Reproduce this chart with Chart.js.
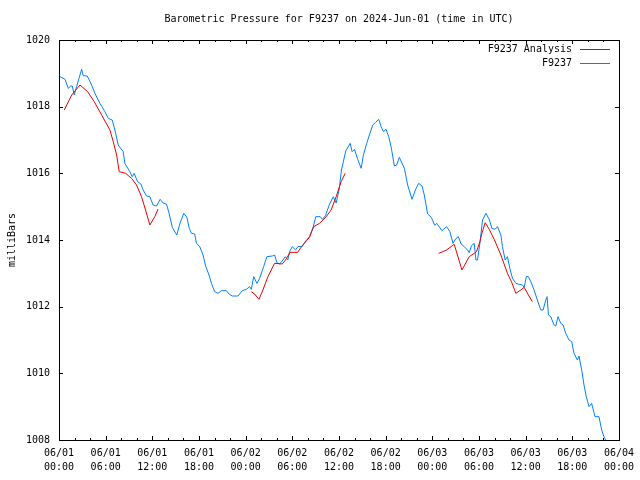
<!DOCTYPE html>
<html><head><meta charset="utf-8">
<script src="https://cdn.jsdelivr.net/npm/chart.js@4/dist/chart.umd.min.js"></script>
<style>html,body{margin:0;padding:0;background:#fff}#wrap{width:640px;height:480px}</style>
</head><body><div id="wrap"><canvas id="c" width="640" height="480"></canvas></div>
<script>
const titleText = "Barometric Pressure for F9237 on 2024-Jun-01 (time in UTC)";
const yAxisTitle = "milliBars";
const seriesNames = ["F9237 Analysis", "F9237"];
const seriesColors = ["rgb(235,0,0)", "rgb(0,128,255)"];
const xTickHours = [0, 6, 12, 18, 24, 30, 36, 42, 48, 54, 60, 66, 72];
const xTickDates = ["06/01","06/01","06/01","06/01","06/02","06/02","06/02","06/02","06/03","06/03","06/03","06/03","06/04"];
const xTickTimes = ["00:00","06:00","12:00","18:00","00:00","06:00","12:00","18:00","00:00","06:00","12:00","18:00","00:00"];
const yTicks = [1008, 1010, 1012, 1014, 1016, 1018, 1020];

// hours since 06/01 00:00 UTC
const stationHours = [0.13,0.77,1.19,1.50,1.71,1.96,2.27,2.57,2.91,3.12,3.63,4.20,4.62,5.26,5.90,6.33,6.84,7.19,7.61,8.25,8.47,9.11,9.41,9.66,10.10,10.52,10.82,11.26,11.68,12.10,12.54,13.00,13.39,13.82,14.18,14.57,15.14,15.53,16.04,16.43,16.75,17.03,17.45,17.67,18.10,18.52,18.87,19.29,19.60,20.02,20.44,20.88,21.52,21.86,22.29,23.01,23.58,24.09,24.51,24.73,25.03,25.45,25.80,26.31,26.73,27.43,27.72,28.02,28.36,28.79,29.10,29.43,29.65,29.99,30.42,30.71,31.28,31.74,32.21,32.64,33.02,33.59,33.88,34.27,34.74,35.26,35.64,36.03,36.32,36.87,37.44,37.69,37.99,38.41,38.85,39.14,39.57,39.91,40.34,40.68,41.11,41.42,41.71,42.06,42.39,42.70,43.12,43.42,43.76,44.41,44.83,45.39,45.82,46.24,46.68,46.97,47.40,47.87,48.32,48.58,49.24,49.83,50.25,50.66,50.99,51.34,51.72,52.11,52.53,52.75,53.04,53.39,53.61,53.81,54.12,54.46,54.89,55.32,55.66,56.08,56.38,56.82,57.02,57.37,57.66,57.97,58.31,58.74,59.17,59.59,59.81,60.10,60.36,60.67,61.09,61.51,61.95,62.25,62.59,62.76,62.93,63.23,63.66,63.88,64.17,64.52,64.81,65.16,65.58,65.93,66.22,66.65,66.86,67.21,67.51,67.80,68.15,68.49,68.92,69.43,69.78,70.07,70.29];
const stationPressure = [1018.90,1018.82,1018.55,1018.62,1018.62,1018.35,1018.60,1018.85,1019.12,1018.93,1018.92,1018.65,1018.40,1018.10,1017.85,1017.65,1017.60,1017.30,1016.85,1016.65,1016.30,1016.05,1015.90,1016.00,1015.75,1015.68,1015.50,1015.32,1015.30,1015.05,1015.02,1015.22,1015.11,1015.08,1014.78,1014.38,1014.15,1014.48,1014.80,1014.69,1014.35,1014.20,1014.18,1013.90,1013.80,1013.55,1013.20,1012.95,1012.70,1012.45,1012.40,1012.48,1012.48,1012.38,1012.32,1012.32,1012.48,1012.52,1012.60,1012.52,1012.90,1012.70,1012.85,1013.20,1013.50,1013.52,1013.55,1013.32,1013.28,1013.40,1013.50,1013.40,1013.65,1013.80,1013.70,1013.80,1013.81,1013.97,1014.10,1014.35,1014.70,1014.70,1014.62,1014.73,1015.05,1015.30,1015.11,1015.53,1016.10,1016.67,1016.90,1016.65,1016.72,1016.42,1016.15,1016.55,1016.90,1017.15,1017.45,1017.52,1017.62,1017.40,1017.25,1017.32,1017.10,1016.80,1016.22,1016.25,1016.48,1016.15,1015.65,1015.22,1015.50,1015.70,1015.62,1015.35,1014.78,1014.68,1014.44,1014.50,1014.28,1014.40,1014.26,1013.90,1014.03,1014.10,1013.88,1013.80,1013.70,1013.62,1013.83,1013.90,1013.40,1013.40,1013.90,1014.60,1014.80,1014.62,1014.35,1014.32,1014.40,1014.15,1013.80,1013.40,1013.50,1013.15,1012.85,1012.70,1012.67,1012.65,1012.58,1012.91,1012.90,1012.75,1012.50,1012.20,1011.90,1011.90,1012.20,1012.30,1011.75,1011.70,1011.45,1011.42,1011.70,1011.50,1011.45,1011.20,1011.00,1010.95,1010.60,1010.40,1010.52,1010.10,1009.65,1009.30,1009.00,1009.10,1008.70,1008.70,1008.30,1008.10,1008.00];

// analysis runs, null = break between runs
const analysisHours = [0.68,1.63,2.70,3.68,4.53,5.48,6.55,6.97,7.41,7.74,8.56,9.33,9.97,10.61,11.13,11.68,12.32,12.74,
  18,
  24.73,25.15,25.71,26.22,26.86,27.72,28.71,29.13,29.71,30.67,31.35,32.21,32.73,33.50,34.36,34.99,35.64,36.06,36.28,36.80,
  42,
  48.81,49.76,50.82,51.81,52.75,53.39,53.68,54.12,54.38,54.80,55.32,55.96,56.82,57.66,58.23,58.74,59.38,59.81,60.36,60.87];
const analysisPressure = [1017.90,1018.35,1018.65,1018.45,1018.15,1017.75,1017.30,1016.95,1016.55,1016.05,1016.00,1015.85,1015.65,1015.30,1014.90,1014.45,1014.70,1014.93,
  null,
  1012.45,1012.38,1012.22,1012.50,1012.90,1013.30,1013.28,1013.40,1013.63,1013.63,1013.85,1014.08,1014.40,1014.50,1014.70,1014.90,1015.30,1015.60,1015.75,1016.00,
  null,
  1013.60,1013.69,1013.87,1013.10,1013.50,1013.60,1013.65,1013.95,1014.20,1014.52,1014.32,1014.02,1013.55,1013.00,1012.72,1012.40,1012.50,1012.58,1012.35,1012.15];

const FONT = "'DejaVu Sans Mono', 'Liberation Mono', monospace";

const gnuplotFrame = {
  id: 'gnuplotFrame',
  afterDatasetsDraw(chart) {
    const ctx = chart.ctx;
    const a = chart.chartArea;
    const xs = chart.scales.x, ys = chart.scales.y;
    ctx.save();
    ctx.strokeStyle = '#000';
    ctx.lineWidth = 1;
    // ticks (inward)
    ctx.beginPath();
    for (let h = xs.min; h <= xs.max; h += 2) {
      const px = Math.round(xs.getPixelForValue(h)) + 0.5;
      const len = (h % 6 === 0) ? 4 : 2;
      ctx.moveTo(px, a.bottom); ctx.lineTo(px, a.bottom - len);
      ctx.moveTo(px, a.top); ctx.lineTo(px, a.top + len);
    }
    yTicks.forEach(v => {
      const py = Math.round(ys.getPixelForValue(v)) + 0.5;
      ctx.moveTo(a.left, py); ctx.lineTo(a.left + 4, py);
      ctx.moveTo(a.right, py); ctx.lineTo(a.right - 4, py);
    });
    ctx.stroke();
    // border
    ctx.strokeRect(Math.round(a.left) + 0.5, Math.round(a.top) + 0.5, Math.round(a.right - a.left), Math.round(a.bottom - a.top));
    // title
    ctx.fillStyle = '#000';
    ctx.font = '10px ' + FONT;
    ctx.textAlign = 'center';
    ctx.textBaseline = 'middle';
    ctx.fillText(titleText, (a.left + a.right) / 2, 19);
    // y axis title
    ctx.save();
    ctx.translate(12, (a.top + a.bottom) / 2);
    ctx.rotate(-Math.PI / 2);
    ctx.fillText(yAxisTitle, 0, 0);
    ctx.restore();
    // legend
    seriesNames.forEach((name, i) => {
      const y = 49 + i * 14;
      ctx.textAlign = 'right';
      ctx.fillStyle = '#000';
      ctx.fillText(name, 572, y);
      ctx.fillStyle = seriesColors[i];
      ctx.fillRect(580, y, 30, 1);
    });
    ctx.restore();
  }
};

new Chart(document.getElementById('c'), {
  type: 'line',
  data: {
    datasets: [
      { label: seriesNames[0], data: analysisHours.map((h, i) => ({x: h, y: analysisPressure[i]})),
        borderColor: seriesColors[0], borderWidth: 1, pointRadius: 0, tension: 0, spanGaps: false, fill: false },
      { label: seriesNames[1], data: stationHours.map((h, i) => ({x: h, y: stationPressure[i]})),
        borderColor: seriesColors[1], borderWidth: 1, pointRadius: 0, tension: 0, spanGaps: false, fill: false }
    ]
  },
  options: {
    responsive: false,
    animation: false,
    devicePixelRatio: 1,
    layout: { padding: { left: 0, right: 20, top: 40, bottom: 0 } },
    plugins: { legend: { display: false }, title: { display: false }, tooltip: { enabled: false } },
    scales: {
      x: {
        type: 'linear', min: 0, max: 72,
        afterBuildTicks: s => { s.ticks = xTickHours.map(v => ({ value: v })); },
        afterFit: s => { s.height = 40; },
        grid: { display: false, drawTicks: false },
        border: { display: false },
        ticks: {
          autoSkip: false, maxRotation: 0, padding: 6, color: '#000',
          font: { family: FONT, size: 10, lineHeight: 1.4 },
          callback: (v, i) => [xTickDates[i], xTickTimes[i]]
        }
      },
      y: {
        type: 'linear', min: 1008, max: 1020,
        afterBuildTicks: s => { s.ticks = yTicks.map(v => ({ value: v })); },
        afterFit: s => { s.width = 59; },
        grid: { display: false, drawTicks: false },
        border: { display: false },
        ticks: { padding: 9, color: '#000', font: { family: FONT, size: 10 }, callback: v => String(v) }
      }
    }
  },
  plugins: [gnuplotFrame]
});
</script>
</body></html>
